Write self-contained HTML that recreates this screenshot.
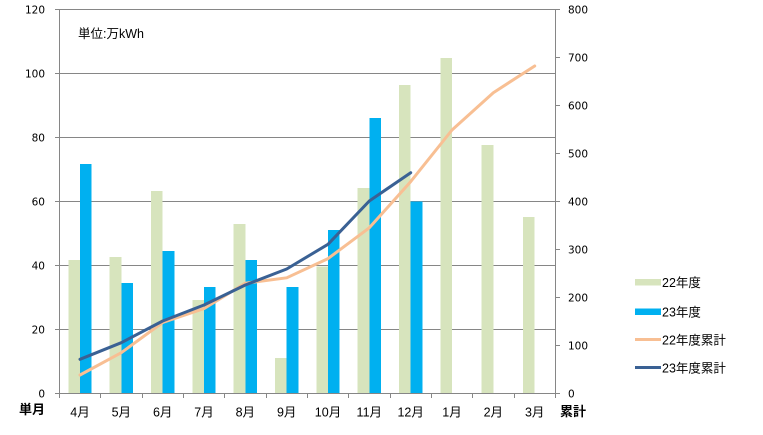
<!DOCTYPE html>
<html><head><meta charset="utf-8"><style>
html,body{margin:0;padding:0;background:#fff;}
svg{display:block;}
text{font-family:"DejaVu Sans","Liberation Sans","Noto Sans CJK JP",sans-serif;fill:#000;}
.cj{font-family:"Liberation Sans","Noto Sans CJK JP",sans-serif;}
</style></head><body>
<svg width="763" height="435" viewBox="0 0 763 435" xmlns="http://www.w3.org/2000/svg">
<g stroke="#868686" stroke-width="1" shape-rendering="crispEdges">
<line x1="59" y1="9.5" x2="555" y2="9.5"/>
<line x1="59" y1="73.5" x2="555" y2="73.5"/>
<line x1="59" y1="137.5" x2="555" y2="137.5"/>
<line x1="59" y1="201.5" x2="555" y2="201.5"/>
<line x1="59" y1="265.5" x2="555" y2="265.5"/>
<line x1="59" y1="329.5" x2="555" y2="329.5"/>
</g>
<g shape-rendering="crispEdges">
<g fill="#D7E4BD">
<rect x="68.3" y="259.9" width="11.7" height="133.4"/>
<rect x="109.6" y="257.0" width="11.7" height="136.3"/>
<rect x="150.9" y="191.1" width="11.7" height="202.2"/>
<rect x="192.3" y="299.9" width="11.7" height="93.4"/>
<rect x="233.6" y="224.0" width="11.7" height="169.3"/>
<rect x="274.9" y="357.8" width="11.7" height="35.5"/>
<rect x="316.3" y="266.3" width="11.7" height="127.0"/>
<rect x="357.6" y="187.9" width="11.7" height="205.4"/>
<rect x="398.9" y="85.1" width="11.7" height="308.2"/>
<rect x="440.3" y="57.9" width="11.7" height="335.4"/>
<rect x="481.6" y="145.0" width="11.7" height="248.3"/>
<rect x="522.9" y="217.0" width="11.7" height="176.3"/>
</g>
<g fill="#00B0F0">
<rect x="80.0" y="163.9" width="11.7" height="229.4"/>
<rect x="121.3" y="282.9" width="11.7" height="110.4"/>
<rect x="162.6" y="250.9" width="11.7" height="142.4"/>
<rect x="204.0" y="287.1" width="11.7" height="106.2"/>
<rect x="245.3" y="259.9" width="11.7" height="133.4"/>
<rect x="286.6" y="287.1" width="11.7" height="106.2"/>
<rect x="328.0" y="230.1" width="11.7" height="163.2"/>
<rect x="369.3" y="118.1" width="11.7" height="275.2"/>
<rect x="410.6" y="201.3" width="11.7" height="192.0"/>
</g>
</g>
<g stroke="#868686" stroke-width="1" shape-rendering="crispEdges" fill="none">
<line x1="59.5" y1="9" x2="59.5" y2="394"/>
<line x1="555.5" y1="9" x2="555.5" y2="394"/>
<line x1="59" y1="393.5" x2="556" y2="393.5"/>
<line x1="55" y1="9.5" x2="59" y2="9.5"/>
<line x1="55" y1="73.5" x2="59" y2="73.5"/>
<line x1="55" y1="137.5" x2="59" y2="137.5"/>
<line x1="55" y1="201.5" x2="59" y2="201.5"/>
<line x1="55" y1="265.5" x2="59" y2="265.5"/>
<line x1="55" y1="329.5" x2="59" y2="329.5"/>
<line x1="55" y1="393.5" x2="59" y2="393.5"/>
<line x1="556" y1="9.5" x2="560" y2="9.5"/>
<line x1="556" y1="57.5" x2="560" y2="57.5"/>
<line x1="556" y1="105.5" x2="560" y2="105.5"/>
<line x1="556" y1="153.5" x2="560" y2="153.5"/>
<line x1="556" y1="201.5" x2="560" y2="201.5"/>
<line x1="556" y1="249.5" x2="560" y2="249.5"/>
<line x1="556" y1="297.5" x2="560" y2="297.5"/>
<line x1="556" y1="345.5" x2="560" y2="345.5"/>
<line x1="556" y1="393.5" x2="560" y2="393.5"/>
<line x1="59.5" y1="394" x2="59.5" y2="398"/>
<line x1="100.5" y1="394" x2="100.5" y2="398"/>
<line x1="142.5" y1="394" x2="142.5" y2="398"/>
<line x1="183.5" y1="394" x2="183.5" y2="398"/>
<line x1="224.5" y1="394" x2="224.5" y2="398"/>
<line x1="266.5" y1="394" x2="266.5" y2="398"/>
<line x1="307.5" y1="394" x2="307.5" y2="398"/>
<line x1="348.5" y1="394" x2="348.5" y2="398"/>
<line x1="390.5" y1="394" x2="390.5" y2="398"/>
<line x1="431.5" y1="394" x2="431.5" y2="398"/>
<line x1="472.5" y1="394" x2="472.5" y2="398"/>
<line x1="514.5" y1="394" x2="514.5" y2="398"/>
<line x1="555.5" y1="394" x2="555.5" y2="398"/>
</g>
<polyline fill="none" stroke="#F8BF93" stroke-width="3" stroke-linejoin="round" stroke-linecap="round"
points="80,375 121.3,352.7 162.7,322.5 204,308.6 245.3,283.2 286.7,277.8 328,258.6 369.3,227.8 410.7,181.6 452,130 493.3,92.7 534.7,66"/>
<polyline fill="none" stroke="#3A6194" stroke-width="3" stroke-linejoin="round" stroke-linecap="round"
points="80,359.3 121.3,342.7 162.7,321 204,305 245.3,285 286.7,269 328,244.3 369.3,201 410.7,172.7"/>
<g font-size="10.5" text-anchor="end">
<text x="45" y="13.5">120</text>
<text x="45" y="77.5">100</text>
<text x="45" y="141.5">80</text>
<text x="45" y="205.5">60</text>
<text x="45" y="269.5">40</text>
<text x="45" y="333.5">20</text>
<text x="45" y="397.5">0</text>
</g>
<g font-size="10.5" text-anchor="start">
<text x="568" y="13.5">800</text>
<text x="568" y="61.5">700</text>
<text x="568" y="109.5">600</text>
<text x="568" y="157.5">500</text>
<text x="568" y="205.5">400</text>
<text x="568" y="253.5">300</text>
<text x="568" y="301.5">200</text>
<text x="568" y="349.5">100</text>
<text x="568" y="397.5">0</text>
</g>
<g font-size="12.5" text-anchor="middle" class="cj">
<text class="cj" x="80" y="416.5">4月</text>
<text class="cj" x="121.3" y="416.5">5月</text>
<text class="cj" x="162.7" y="416.5">6月</text>
<text class="cj" x="204" y="416.5">7月</text>
<text class="cj" x="245.3" y="416.5">8月</text>
<text class="cj" x="286.7" y="416.5">9月</text>
<text class="cj" x="328" y="416.5">10月</text>
<text class="cj" x="369.3" y="416.5">11月</text>
<text class="cj" x="410.7" y="416.5">12月</text>
<text class="cj" x="452" y="416.5">1月</text>
<text class="cj" x="493.3" y="416.5">2月</text>
<text class="cj" x="534.7" y="416.5">3月</text>
</g>
<text class="cj" x="19" y="414" font-size="13" font-weight="bold">単月</text>
<text class="cj" x="560" y="416" font-size="13" font-weight="bold">累計</text>
<text class="cj" x="78" y="38" font-size="12.5">単位:万kWh</text>
<rect x="635" y="279" width="26" height="6.5" fill="#D7E4BD"/>
<rect x="635" y="308.5" width="26" height="6.5" fill="#00B0F0"/>
<line x1="635" y1="339.5" x2="661" y2="339.5" stroke="#F8BF93" stroke-width="3"/>
<line x1="635" y1="367.5" x2="661" y2="367.5" stroke="#3A6194" stroke-width="3"/>
<g font-size="12.5" class="cj">
<text class="cj" x="662" y="287">22年度</text>
<text class="cj" x="662" y="316.5">23年度</text>
<text class="cj" x="662" y="344.5">22年度累計</text>
<text class="cj" x="662" y="372.5">23年度累計</text>
</g>
</svg>
</body></html>
